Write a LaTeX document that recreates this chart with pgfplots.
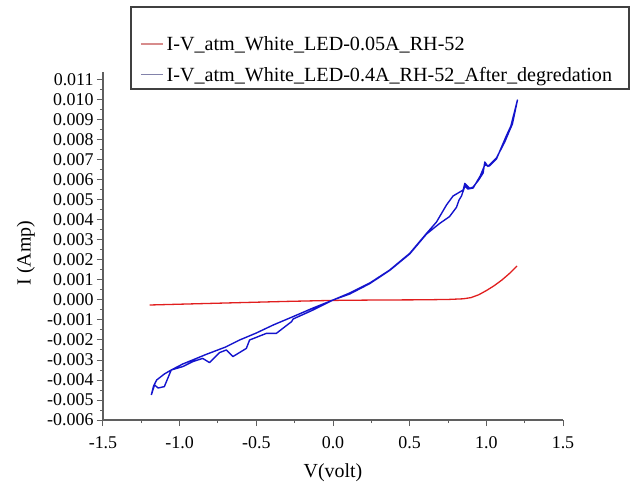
\documentclass[border=0pt]{standalone}
\usepackage{fontspec}
\setmainfont{Liberation Serif}
\usepackage{pgfplots}
\pgfplotsset{compat=1.18}
\definecolor{cblue}{RGB}{20,20,205}
\definecolor{cred}{RGB}{225,30,30}
\definecolor{axgray}{RGB}{95,95,95}
\definecolor{legred}{RGB}{215,140,140}
\definecolor{legblue}{RGB}{130,130,170}
\begin{document}
\begin{tikzpicture}
\begin{axis}[
  scale only axis, width=460bp, height=348bp,
  xmin=-1.5, xmax=1.5, ymin=-0.006, ymax=0.0114,
  axis x line*=bottom, axis y line*=left,
  axis line style={draw=axgray, line width=1.2bp},
  xtick={-1.5,-1,-0.5,0,0.5,1,1.5},
  xticklabels={-1.5,-1.0,-0.5,0.0,0.5,1.0,1.5},
  ytick={-0.006,-0.005,-0.004,-0.003,-0.002,-0.001,0,0.001,0.002,0.003,0.004,0.005,0.006,0.007,0.008,0.009,0.010,0.011},
  yticklabels={-0.006,-0.005,-0.004,-0.003,-0.002,-0.001,0.000,0.001,0.002,0.003,0.004,0.005,0.006,0.007,0.008,0.009,0.010,0.011},
  scaled y ticks=false,
  minor x tick num=1, minor y tick num=1,
  tick align=outside,
  major tick length=6bp, minor tick length=3bp,
  every tick/.style={draw=axgray, line width=1bp},
  tick label style={font=\fontsize{18}{20}\selectfont},
  xticklabel style={yshift=-7bp},
  label style={font=\fontsize{20}{24}\selectfont},
  xlabel={V(volt)}, ylabel={I (Amp)},
  xlabel style={at={(axis description cs:0.5,-0.152)}, anchor=center},
  ylabel style={at={(axis description cs:-0.168,0.48)}, anchor=center},
  legend style={at={(axis description cs:0.0804,1.1149)}, anchor=north west,
    draw=none, fill=none, font=\fontsize{20.2}{24}\selectfont,
    inner sep=0bp, column sep=0bp,
    nodes={inner xsep=3bp, inner ysep=3bp}},
  legend cell align=left,
  legend image code/.code={\path[draw=none, fill=none] (0bp,-12bp) rectangle (22bp,12bp); \draw[#1] (0bp,0bp) -- (22bp,0bp);},
]
\addplot[cred, line width=1.3bp, forget plot] coordinates {
(-1.196,-0.00025) (-0.9,-0.00019) (-0.6,-0.00013) (-0.3,-0.00007) (0,-0.00002)
(0.3,0.0) (0.6,0.00001) (0.76,0.00003) (0.85,0.00006) (0.9,0.00012)
(0.95,0.00026) (1.0,0.00047) (1.05,0.00071) (1.1,0.00099) (1.15,0.00132) (1.2,0.0017)
};
\addplot[cblue, line width=1.4bp, line join=round, forget plot] coordinates {
(-1.185,-0.00475) (-1.17,-0.0043) (-1.15,-0.0040) (-1.10,-0.0037) (-1.055,-0.0035)
(-0.98,-0.0032) (-0.9,-0.00295) (-0.827,-0.00272) (-0.7,-0.00235) (-0.609,-0.00200)
(-0.5,-0.00165) (-0.39,-0.00125) (-0.26,-0.00083) (-0.13,-0.00040) (0.0,0.0)
(0.109,0.00035) (0.24,0.00085) (0.37,0.0015) (0.50,0.00233) (0.61,0.00333)
(0.675,0.0039) (0.74,0.00475) (0.783,0.0052) (0.849,0.0055) (0.86,0.00583)
(0.892,0.00558) (0.914,0.00565) (0.95,0.0060) (0.979,0.00635) (0.99,0.0069)
(1.01,0.00668) (1.066,0.0071) (1.12,0.0079) (1.153,0.0085) (1.17,0.0088) (1.203,0.0100)
(1.16,0.0087) (1.13,0.0082) (1.066,0.00705) (1.02,0.0067) (0.99,0.00675)
(0.96,0.0062) (0.914,0.0056) (0.88,0.00555) (0.86,0.0057) (0.838,0.0052)
(0.822,0.0050) (0.805,0.00463) (0.76,0.00417) (0.696,0.00383) (0.61,0.0033)
(0.50,0.0023) (0.37,0.00148) (0.24,0.00082) (0.109,0.0003) (0.0,0.0)
(-0.13,-0.0005) (-0.26,-0.00095) (-0.27,-0.00108) (-0.37,-0.00167) (-0.435,-0.00167)
(-0.544,-0.0020) (-0.565,-0.00242) (-0.653,-0.00283) (-0.696,-0.0025) (-0.74,-0.00263)
(-0.805,-0.00313) (-0.85,-0.00292) (-0.914,-0.00308) (-0.98,-0.00333) (-1.055,-0.0035)
(-1.10,-0.00433) (-1.14,-0.0044) (-1.164,-0.00425) (-1.185,-0.00475)
};
\addlegendimage{legred, line width=1.5bp}
\addlegendentry{\raisebox{0bp}[15bp][5bp]{I-V\_atm\_White\_LED-0.05A\_RH-52}}
\addlegendimage{legblue, line width=1.5bp, yshift=-7bp}
\addlegendentry{\raisebox{-7bp}[15bp][5bp]{I-V\_atm\_White\_LED-0.4A\_RH-52\_After\_degredation}}
\end{axis}
\draw[black!75, line width=1.2bp] (28bp,413bp) rectangle (526bp,331bp);
\pgfresetboundingbox
\path[use as bounding box] (-103bp,-64bp) rectangle (527bp,420bp);
\end{tikzpicture}
\end{document}
